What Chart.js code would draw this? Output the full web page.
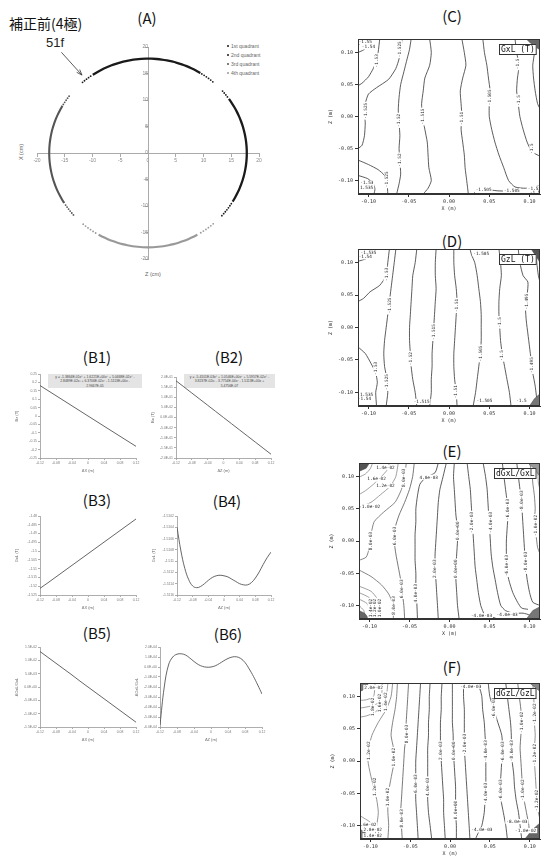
<!DOCTYPE html>
<html><head><meta charset="utf-8">
<script src="https://cdn.jsdelivr.net/npm/chart.js@4.4.1/dist/chart.umd.min.js"></script>
<style>
html,body{margin:0;padding:0;background:#fff;width:542px;height:861px;overflow:hidden;}
body{position:relative;font-family:'Liberation Sans',Arial,sans-serif;}
canvas{position:absolute;}
.ttl{position:absolute;font-family:'Noto Sans CJK JP',sans-serif;font-size:15px;color:#111;transform:translate(-50%,-50%);white-space:nowrap;line-height:1;}
.eq{position:absolute;background:#e4e4e4;font-size:3.4px;line-height:4.3px;color:#444;text-align:center;padding-top:1px;box-sizing:border-box;white-space:nowrap;}
.leg{position:absolute;font-size:5px;color:#666;line-height:1;white-space:nowrap;}
.dot{position:absolute;width:2px;height:2px;border-radius:50%;}
.axt{position:absolute;font-size:5.5px;color:#666;white-space:nowrap;line-height:1;transform:translate(-50%,-50%);}
</style></head><body>
<div class="ttl" style="left:9px;top:23px;transform:translate(0,-50%);font-size:14px;">補正前(4極)</div>
<div class="ttl" style="left:147px;top:17px;">(A)</div>
<div class="ttl" style="left:97px;top:356px;">(B1)</div>
<div class="ttl" style="left:229px;top:356px;">(B2)</div>
<div class="ttl" style="left:97px;top:499px;">(B3)</div>
<div class="ttl" style="left:227px;top:500px;">(B4)</div>
<div class="ttl" style="left:97px;top:632px;">(B5)</div>
<div class="ttl" style="left:228px;top:633px;">(B6)</div>
<div class="ttl" style="left:452px;top:15px;">(C)</div>
<div class="ttl" style="left:452px;top:240px;">(D)</div>
<div class="ttl" style="left:452px;top:450px;">(E)</div>
<div class="ttl" style="left:452px;top:666px;">(F)</div>
<div style="position:absolute;left:46px;top:36px;font-size:13px;color:#222;line-height:1;">51f</div>
<div class="axt" style="left:22px;top:152px;transform:translate(-50%,-50%) rotate(-90deg);">X (cm)</div>
<div class="axt" style="left:153px;top:275px;">Z (cm)</div>
<div class="dot" style="left:227px;top:45px;background:#1a1a1a"></div><div class="leg" style="left:231px;top:43.5px">1st quadrant</div>
<div class="dot" style="left:227px;top:54px;background:#1a1a1a"></div><div class="leg" style="left:231px;top:52.5px">2nd quadrant</div>
<div class="dot" style="left:227px;top:63px;background:#555"></div><div class="leg" style="left:231px;top:61.5px">3rd quadrant</div>
<div class="dot" style="left:227px;top:72px;background:#999"></div><div class="leg" style="left:231px;top:70.5px">4th quadrant</div>
<div class="eq" style="left:48px;top:374px;width:94px;height:14px;">y = -1.3864E-01x⁶ + 1.6221E+00x⁵ + 5.0468E-02x⁴ -<br>2.8489E-02x³ + 6.3706E-02x² - 1.5113E+00x -<br>2.9667E-05</div>
<div class="eq" style="left:184px;top:374px;width:91px;height:14px;">y = -5.4101E-03x⁶ + 1.0546E+00x⁵ + 5.5957E-02x⁴ -<br>3.8237E-02x³ - 3.7754E-04x² - 1.5113E+00x +<br>5.4756E-07</div>
<script>
// ---------------- DATA ----------------
// Panel A : measured points on circle (angle in degrees, radius in cm)
const A_radius = 17.8;
const q1Dense = [58,61,64,67,70,73,76,79,82,85,88,91,94,97,100,103,106,109,112,115,118,121,124];
const q1Sparse = [49,50.6,52.2,53.8,55.4,57,125.5,127,128.5,130,131.5];
const q2Dense = [35,32,29,26,23,20,17,14,11,8,5,2,-1,-4,-7,-10,-13,-16,-19,-22,-25,-28,-31];
const q2Sparse = [41,39.5,38,36.5,-32.5,-34,-35.5,-37,-38.5,-40,-41.6];
const q3Dense = [150,153,156,159,162,165,168,171,174,177,180,183,186,189,192,195,198,201,204,207,210,212];
const q3Sparse = [143,144.5,146,147.5,149,213.5,215,216.5,218,219.5,221];
const q4Dense = [-60,-63,-66,-69,-72,-75,-78,-81,-84,-87,-90,-93,-96,-99,-102,-105,-108,-111,-114,-117,-120];
const q4Sparse = [-48.7,-50.5,-52.3,-54.1,-55.9,-57.7,-122,-123.8,-125.6,-127.4,-129.2,-131];

// Panel B
const B_dx = [-0.12,-0.10,-0.08,-0.06,-0.04,-0.02,0,0.02,0.04,0.06,0.08,0.10,0.12];
const B1_field = [0.1814,0.1511,0.1209,0.0907,0.0605,0.0302,0.0000,-0.0302,-0.0604,-0.0905,-0.1206,-0.1506,-0.1806];
const B2_field = [0.1813,0.1511,0.1209,0.0907,0.0605,0.0302,0.0000,-0.0302,-0.0605,-0.0907,-0.1209,-0.1511,-0.1814];
const B3_GxL = [-1.5212,-1.5180,-1.5147,-1.5114,-1.5081,-1.5048,-1.5015,-1.4982,-1.4949,-1.4916,-1.4883,-1.4850,-1.4817];
const B5_dG = [0.0133,0.0111,0.0089,0.0067,0.0045,0.0022,0.0000,-0.0022,-0.0044,-0.0066,-0.0088,-0.0110,-0.0132];
const B_dz = [-0.12,-0.11,-0.10,-0.09,-0.08,-0.07,-0.06,-0.05,-0.04,-0.03,-0.02,-0.01,0,0.01,0.02,0.03,0.04,0.05,0.06,0.07,0.08,0.09,0.10,0.11,0.12];
const B4_GzL = [-1.51040,-1.51082,-1.51113,-1.51133,-1.51144,-1.51147,-1.51145,-1.51140,-1.51134,-1.51129,-1.51126,-1.51125,-1.51126,-1.51128,-1.51132,-1.51136,-1.51140,-1.51142,-1.51142,-1.51138,-1.51130,-1.51119,-1.51106,-1.51094,-1.51084];
const B6_dG = [-5.8e-4,-2.0e-4,0.2e-4,1.0e-4,1.28e-4,1.32e-4,1.20e-4,0.90e-4,0.55e-4,0.25e-4,0.06e-4,-0.02e-4,0,0.12e-4,0.35e-4,0.62e-4,0.85e-4,1.0e-4,1.02e-4,0.85e-4,0.45e-4,-0.2e-4,-0.95e-4,-1.8e-4,-2.7e-4];

// Panel C : GxL contours [x, z] (m)
const C_m155 = [[-0.113,0.112],[-0.108,0.116],[-0.106,0.121]];
const C_m154 = [[-0.113,0.100],[-0.106,0.104],[-0.100,0.112],[-0.098,0.121]];
const C_m153a = [[-0.086,0.121],[-0.088,0.10],[-0.090,0.087],[-0.094,0.075],[-0.100,0.062],[-0.108,0.052],[-0.113,0.048]];
const C_m1525a = [[-0.058,0.121],[-0.060,0.105],[-0.062,0.09],[-0.066,0.075],[-0.075,0.058],[-0.090,0.045],[-0.100,0.035],[-0.104,0.02],[-0.105,0.005],[-0.104,-0.01],[-0.105,-0.03],[-0.108,-0.045],[-0.113,-0.05]];
const C_m1525b = [[-0.113,-0.068],[-0.100,-0.075],[-0.088,-0.083],[-0.080,-0.092],[-0.077,-0.103],[-0.076,-0.121]];
const C_m153b = [[-0.113,-0.092],[-0.101,-0.097],[-0.094,-0.105],[-0.092,-0.113],[-0.093,-0.121]];
const C_m152 = [[-0.047,0.121],[-0.049,0.105],[-0.052,0.09],[-0.056,0.07],[-0.060,0.05],[-0.062,0.03],[-0.063,0.01],[-0.062,-0.01],[-0.061,-0.03],[-0.062,-0.05],[-0.061,-0.07],[-0.060,-0.09],[-0.062,-0.105],[-0.065,-0.121]];
const C_m1515 = [[-0.024,0.121],[-0.022,0.10],[-0.024,0.08],[-0.030,0.06],[-0.032,0.04],[-0.034,0.02],[-0.033,0.00],[-0.030,-0.02],[-0.027,-0.04],[-0.026,-0.06],[-0.025,-0.08],[-0.022,-0.10],[-0.026,-0.112],[-0.032,-0.121]];
const C_m151 = [[0.016,0.121],[0.019,0.10],[0.021,0.08],[0.017,0.06],[0.014,0.04],[0.015,0.02],[0.016,0.00],[0.015,-0.02],[0.017,-0.04],[0.019,-0.06],[0.020,-0.08],[0.022,-0.10],[0.024,-0.121]];
const C_m1505 = [[0.042,0.121],[0.044,0.10],[0.047,0.08],[0.049,0.06],[0.051,0.04],[0.050,0.02],[0.050,0.00],[0.053,-0.02],[0.057,-0.04],[0.062,-0.06],[0.068,-0.08],[0.074,-0.10],[0.082,-0.110],[0.095,-0.112],[0.113,-0.108]];
const C_m1505b = [[0.030,-0.121],[0.034,-0.116],[0.045,-0.114],[0.060,-0.116],[0.075,-0.117],[0.085,-0.121]];
const C_m150 = [[0.082,0.121],[0.084,0.10],[0.087,0.08],[0.085,0.06],[0.084,0.04],[0.086,0.02],[0.088,0.00],[0.092,-0.02],[0.097,-0.04],[0.103,-0.055],[0.113,-0.062]];
const C_m1495 = [[0.104,0.121],[0.106,0.10],[0.104,0.08],[0.105,0.06],[0.107,0.04],[0.110,0.02],[0.113,0.012]];
const C_patch = [[0.096,0.121],[0.113,0.121],[0.113,0.104],[0.106,0.110],[0.100,0.116]];
const C_labels = [['-1.525',-0.061,0.105],['-1.53',-0.090,0.087],['-1.525',-0.104,0.009],['-1.52',-0.062,-0.006],['-1.52',-0.061,-0.068],['-1.525',-0.077,-0.098],['-1.515',-0.033,0.000],['-1.51',0.016,-0.003],['-1.505',0.051,0.030],['-1.5',0.085,0.082],['-1.5',0.086,0.025],['-1.5',0.103,-0.050],['-1.505',0.043,-0.115,1],['-1.505',0.078,-0.116,1],['-1.55',-0.104,0.117,1],['-1.54',-0.100,0.109,1],['-1.53',-0.102,-0.104,1],['-1.535',-0.104,-0.111,1],['-1.53',0.106,-0.112,1],['-1.5',0.107,-0.119,1]];

// Panel D : GzL contours
const D_m1535 = [[-0.094,0.121],[-0.097,0.113],[-0.103,0.106],[-0.113,0.102]];
const D_m153a = [[-0.074,0.121],[-0.076,0.10],[-0.078,0.08],[-0.086,0.065],[-0.098,0.055],[-0.106,0.045],[-0.113,0.040]];
const D_m1525 = [[-0.066,0.121],[-0.068,0.10],[-0.070,0.08],[-0.072,0.06],[-0.074,0.04],[-0.076,0.02],[-0.078,0.00],[-0.080,-0.02],[-0.081,-0.04],[-0.080,-0.06],[-0.077,-0.08],[-0.076,-0.10],[-0.078,-0.121]];
const D_m153b = [[-0.113,-0.030],[-0.104,-0.040],[-0.097,-0.055],[-0.091,-0.07],[-0.089,-0.085],[-0.091,-0.10],[-0.090,-0.121]];
const D_m152 = [[-0.040,0.121],[-0.042,0.10],[-0.045,0.08],[-0.046,0.06],[-0.047,0.04],[-0.048,0.02],[-0.049,0.00],[-0.049,-0.02],[-0.048,-0.04],[-0.047,-0.06],[-0.045,-0.08],[-0.042,-0.10],[-0.040,-0.121]];
const D_m1515 = [[-0.016,0.121],[-0.017,0.10],[-0.017,0.08],[-0.016,0.06],[-0.017,0.04],[-0.018,0.02],[-0.019,0.00],[-0.020,-0.02],[-0.021,-0.04],[-0.021,-0.06],[-0.022,-0.08],[-0.022,-0.10],[-0.024,-0.121]];
const D_m151 = [[0.006,0.121],[0.006,0.10],[0.007,0.08],[0.009,0.06],[0.010,0.04],[0.009,0.02],[0.008,0.00],[0.007,-0.02],[0.006,-0.04],[0.006,-0.06],[0.007,-0.08],[0.009,-0.10],[0.010,-0.121]];
const D_m1505 = [[0.026,0.121],[0.028,0.112],[0.032,0.10],[0.035,0.08],[0.037,0.06],[0.039,0.04],[0.040,0.02],[0.040,0.00],[0.040,-0.02],[0.039,-0.04],[0.037,-0.06],[0.035,-0.08],[0.033,-0.10],[0.030,-0.121]];
const D_m150 = [[0.062,0.121],[0.064,0.10],[0.065,0.08],[0.063,0.06],[0.062,0.04],[0.062,0.02],[0.063,0.00],[0.064,-0.02],[0.066,-0.04],[0.069,-0.06],[0.072,-0.08],[0.075,-0.10],[0.077,-0.121]];
const D_m1495 = [[0.086,0.121],[0.088,0.10],[0.092,0.08],[0.098,0.07],[0.097,0.05],[0.095,0.03],[0.096,0.01],[0.098,-0.01],[0.100,-0.03],[0.102,-0.05],[0.104,-0.07],[0.107,-0.09],[0.110,-0.121]];
const D_m149 = [[0.108,0.121],[0.109,0.10],[0.111,0.08],[0.113,0.07]];
const D_patchTR = [[0.102,0.121],[0.113,0.121],[0.113,0.100],[0.108,0.110]];
const D_patchBR = [[0.100,-0.121],[0.113,-0.121],[0.113,-0.102],[0.106,-0.110]];
const D_labels = [['-1.535',-0.100,0.116,1],['-1.54',-0.104,0.109,1],['-1.53',-0.078,0.082],['-1.525',-0.074,0.034],['-1.52',-0.047,-0.048],['-1.525',-0.077,-0.084],['-1.53',-0.091,-0.063],['-1.515',-0.019,-0.007],['-1.51',0.010,0.034],['-1.51',0.008,-0.099],['-1.515',-0.034,-0.114,1],['-1.505',0.039,-0.040],['-1.505',0.044,-0.113,1],['-1.505',0.040,0.114,1],['-1.5',0.063,0.008],['-1.5',0.066,-0.043],['-1.495',0.096,0.040],['-1.495',0.103,-0.058],['-1.5',0.090,-0.112,1],['-1.535',-0.104,-0.103,1],['-1.54',-0.105,-0.110,1]];

// Panel E : dGxL/GxL contours
const E_p16a = [[-0.107,0.121],[-0.109,0.116],[-0.113,0.113]];
const E_p14a = [[-0.096,0.121],[-0.099,0.112],[-0.105,0.104],[-0.113,0.099]];
const E_p12a = [[-0.075,0.121],[-0.078,0.11],[-0.085,0.10],[-0.095,0.088],[-0.105,0.078],[-0.113,0.072]];
const E_p10a = [[-0.064,0.121],[-0.067,0.10],[-0.074,0.085],[-0.086,0.072],[-0.098,0.060],[-0.113,0.052]];
const E_p08a = [[-0.054,0.121],[-0.056,0.10],[-0.060,0.08],[-0.068,0.06],[-0.082,0.045],[-0.094,0.03],[-0.098,0.01],[-0.100,-0.01],[-0.104,-0.025],[-0.113,-0.030]];
const E_p08b = [[-0.113,-0.045],[-0.098,-0.055],[-0.085,-0.068],[-0.076,-0.082],[-0.071,-0.097],[-0.070,-0.121]];
const E_p10b = [[-0.113,-0.070],[-0.098,-0.078],[-0.090,-0.090],[-0.087,-0.105],[-0.086,-0.121]];
const E_p12b = [[-0.113,-0.080],[-0.100,-0.088],[-0.094,-0.100],[-0.093,-0.121]];
const E_p14b = [[-0.113,-0.090],[-0.103,-0.097],[-0.099,-0.108],[-0.099,-0.121]];
const E_p18b = [[-0.113,-0.100],[-0.107,-0.108],[-0.105,-0.121]];
const E_p06 = [[-0.044,0.121],[-0.046,0.10],[-0.050,0.08],[-0.056,0.06],[-0.063,0.04],[-0.068,0.02],[-0.069,0.00],[-0.067,-0.02],[-0.064,-0.04],[-0.061,-0.06],[-0.059,-0.08],[-0.057,-0.10],[-0.056,-0.121]];
const E_p04 = [[-0.014,0.121],[-0.018,0.106],[-0.030,0.098],[-0.037,0.088],[-0.040,0.07],[-0.042,0.05],[-0.042,0.03],[-0.043,0.01],[-0.043,-0.01],[-0.043,-0.03],[-0.042,-0.05],[-0.042,-0.07],[-0.041,-0.09],[-0.040,-0.121]];
const E_p02 = [[-0.004,0.121],[-0.008,0.10],[-0.012,0.08],[-0.014,0.06],[-0.015,0.04],[-0.016,0.02],[-0.017,0.00],[-0.018,-0.02],[-0.018,-0.04],[-0.017,-0.06],[-0.016,-0.08],[-0.015,-0.10],[-0.014,-0.121]];
const E_z00 = [[0.006,0.121],[0.005,0.10],[0.006,0.08],[0.007,0.06],[0.008,0.04],[0.010,0.02],[0.010,0.00],[0.009,-0.02],[0.008,-0.04],[0.008,-0.06],[0.009,-0.08],[0.010,-0.10],[0.012,-0.121]];
const E_m02 = [[0.022,0.121],[0.024,0.10],[0.026,0.08],[0.027,0.06],[0.028,0.04],[0.029,0.02],[0.030,0.00],[0.031,-0.02],[0.032,-0.04],[0.034,-0.06],[0.036,-0.08],[0.039,-0.10],[0.042,-0.11],[0.046,-0.121]];
const E_m04 = [[0.042,0.121],[0.045,0.10],[0.047,0.08],[0.048,0.06],[0.049,0.04],[0.050,0.02],[0.051,0.00],[0.052,-0.02],[0.054,-0.04],[0.057,-0.06],[0.060,-0.08],[0.064,-0.10],[0.070,-0.108],[0.080,-0.112],[0.092,-0.112],[0.100,-0.115],[0.104,-0.121]];
const E_m04b = [[0.028,-0.121],[0.034,-0.117],[0.048,-0.116],[0.060,-0.121]];
const E_m06 = [[0.066,0.121],[0.068,0.10],[0.070,0.08],[0.072,0.06],[0.073,0.04],[0.072,0.02],[0.071,0.00],[0.071,-0.02],[0.071,-0.04],[0.074,-0.06],[0.079,-0.08],[0.085,-0.095],[0.090,-0.104],[0.098,-0.106]];
const E_m08 = [[0.084,0.121],[0.086,0.10],[0.088,0.08],[0.090,0.06],[0.091,0.04],[0.092,0.02],[0.093,0.00],[0.094,-0.02],[0.095,-0.04],[0.097,-0.06],[0.100,-0.08],[0.104,-0.095],[0.113,-0.100]];
const E_m10 = [[0.100,0.121],[0.103,0.105],[0.104,0.09],[0.106,0.07],[0.107,0.05],[0.106,0.03],[0.108,0.01],[0.110,-0.01],[0.113,-0.02]];
const E_m12 = [[0.108,0.121],[0.110,0.11],[0.111,0.09],[0.113,0.08]];
const E_patchTL = [[-0.113,0.121],[-0.100,0.121],[-0.104,0.113],[-0.113,0.108]];
const E_patchBL = [[-0.113,-0.121],[-0.100,-0.121],[-0.106,-0.112],[-0.113,-0.108]];
const E_patchTR = [[0.098,0.121],[0.113,0.121],[0.113,0.100],[0.106,0.112]];
const E_patchBR = [[0.096,-0.121],[0.113,-0.121],[0.113,-0.102],[0.104,-0.108]];
const E_labels = [['1.4e-02',-0.080,0.114,1],['1.6e-02',-0.091,0.096,1],['1.2e-02',-0.080,0.086,1],['1.0e-02',-0.098,0.054,1],['8.0e-03',-0.057,0.098],['4.0e-03',-0.026,0.099,1],['8.0e-03',-0.098,0.0],['6.0e-03',-0.069,0.008],['6.0e-03',-0.060,-0.074],['4.0e-03',-0.042,-0.081],['2.0e-03',-0.018,-0.043],['0.0e+00',0.010,0.016],['0.0e+00',0.008,-0.043],['-2.0e-03',0.028,0.029],['-4.0e-03',0.051,0.029],['-6.0e-03',0.073,0.049],['-6.0e-03',0.071,-0.038],['-8.0e-03',0.090,0.062],['-8.0e-03',0.095,-0.033],['-1.0e-02',0.107,0.024],['-4.0e-03',0.040,-0.116,1],['-4.0e-03',0.072,-0.114,1],['8.0e-03',-0.070,-0.100],['1.4e-02',-0.099,-0.104],['1.2e-02',-0.093,-0.104],['1.0e-02',-0.087,-0.104]];

// Panel F : dGzL/GzL contours
const F_p20 = [[-0.113,0.108],[-0.106,0.113],[-0.103,0.121]];
const F_p18 = [[-0.094,0.121],[-0.096,0.10],[-0.105,0.095],[-0.113,0.094]];
const F_p16 = [[-0.085,0.121],[-0.086,0.10],[-0.090,0.09],[-0.100,0.085],[-0.113,0.082]];
const F_p14 = [[-0.078,0.121],[-0.080,0.10],[-0.086,0.085],[-0.095,0.075],[-0.105,0.07],[-0.113,0.068]];
const F_p14b = [[-0.113,-0.085],[-0.100,-0.095],[-0.090,-0.11],[-0.088,-0.121]];
const F_p12 = [[-0.072,0.121],[-0.074,0.10],[-0.080,0.08],[-0.090,0.06],[-0.098,0.04],[-0.102,0.02],[-0.103,0.00],[-0.100,-0.02],[-0.096,-0.04],[-0.092,-0.06],[-0.090,-0.08],[-0.092,-0.10],[-0.095,-0.121]];
const F_p10 = [[-0.066,0.121],[-0.067,0.10],[-0.069,0.08],[-0.072,0.06],[-0.074,0.04],[-0.071,0.02],[-0.070,0.00],[-0.073,-0.02],[-0.076,-0.04],[-0.078,-0.06],[-0.078,-0.08],[-0.077,-0.10],[-0.078,-0.121]];
const F_p08 = [[-0.052,0.121],[-0.053,0.10],[-0.054,0.08],[-0.055,0.06],[-0.055,0.04],[-0.057,0.02],[-0.058,0.00],[-0.059,-0.02],[-0.060,-0.04],[-0.061,-0.06],[-0.062,-0.08],[-0.061,-0.10],[-0.060,-0.121]];
const F_p06 = [[-0.037,0.121],[-0.038,0.10],[-0.039,0.08],[-0.040,0.06],[-0.041,0.04],[-0.042,0.02],[-0.043,0.00],[-0.043,-0.02],[-0.043,-0.04],[-0.043,-0.06],[-0.042,-0.08],[-0.041,-0.10],[-0.040,-0.121]];
const F_p04 = [[-0.025,0.121],[-0.026,0.10],[-0.026,0.08],[-0.027,0.06],[-0.027,0.04],[-0.028,0.02],[-0.028,0.00],[-0.028,-0.02],[-0.028,-0.04],[-0.028,-0.06],[-0.027,-0.08],[-0.025,-0.10],[-0.023,-0.121]];
const F_p02 = [[-0.010,0.121],[-0.011,0.10],[-0.011,0.08],[-0.012,0.06],[-0.012,0.04],[-0.012,0.02],[-0.011,0.00],[-0.010,-0.02],[-0.009,-0.04],[-0.008,-0.06],[-0.008,-0.08],[-0.007,-0.10],[-0.006,-0.121]];
const F_z00 = [[0.003,0.121],[0.003,0.10],[0.003,0.08],[0.003,0.06],[0.004,0.04],[0.004,0.02],[0.005,0.00],[0.006,-0.02],[0.007,-0.04],[0.007,-0.06],[0.007,-0.08],[0.008,-0.10],[0.008,-0.121]];
const F_m02 = [[0.017,0.121],[0.017,0.10],[0.018,0.08],[0.018,0.06],[0.018,0.04],[0.018,0.02],[0.019,0.00],[0.020,-0.02],[0.021,-0.04],[0.022,-0.06],[0.023,-0.08],[0.024,-0.10],[0.025,-0.121]];
const F_m04 = [[0.034,0.121],[0.038,0.11],[0.040,0.10],[0.041,0.08],[0.043,0.06],[0.044,0.04],[0.045,0.02],[0.045,0.00],[0.045,-0.02],[0.045,-0.04],[0.044,-0.06],[0.043,-0.08],[0.040,-0.10],[0.036,-0.11],[0.032,-0.121]];
const F_m06 = [[0.048,0.121],[0.050,0.10],[0.055,0.08],[0.060,0.06],[0.065,0.04],[0.066,0.02],[0.065,0.00],[0.064,-0.02],[0.063,-0.04],[0.064,-0.06],[0.067,-0.08],[0.070,-0.10],[0.072,-0.121]];
const F_m08 = [[0.070,0.121],[0.072,0.10],[0.074,0.08],[0.076,0.06],[0.077,0.04],[0.077,0.02],[0.078,0.00],[0.080,-0.02],[0.081,-0.04],[0.083,-0.06],[0.086,-0.08],[0.088,-0.10],[0.090,-0.121]];
const F_m10 = [[0.085,0.121],[0.087,0.10],[0.089,0.08],[0.090,0.06],[0.089,0.04],[0.088,0.02],[0.089,0.00],[0.090,-0.02],[0.091,-0.04],[0.093,-0.06],[0.096,-0.08],[0.099,-0.10],[0.100,-0.121]];
const F_m12 = [[0.104,0.121],[0.105,0.10],[0.106,0.08],[0.106,0.06],[0.107,0.04],[0.106,0.02],[0.106,0.00],[0.107,-0.02],[0.108,-0.04],[0.109,-0.06],[0.111,-0.08],[0.113,-0.09]];
const F_patchTL = [[-0.113,0.121],[-0.102,0.121],[-0.107,0.112],[-0.113,0.108]];
const F_patchBL = [[-0.113,-0.121],[-0.100,-0.121],[-0.107,-0.110],[-0.113,-0.106]];
const F_patchTR = [[0.100,0.121],[0.113,0.121],[0.113,0.108]];
const F_patchBR = [[0.094,-0.121],[0.113,-0.121],[0.113,-0.096],[0.104,-0.106]];
const F_labels = [['2.0e-02',-0.096,0.114,1],['1.8e-02',-0.097,0.084],['1.6e-02',-0.088,0.090],['1.4e-02',-0.081,0.092],['1.2e-02',-0.102,0.016],['1.2e-02',-0.094,-0.040],['1.0e-02',-0.071,0.006],['1.0e-02',-0.078,-0.056],['8.0e-03',-0.055,0.042],['8.0e-03',-0.061,-0.089],['6.0e-03',-0.043,-0.035],['4.0e-03',-0.028,-0.040],['2.0e-03',-0.012,0.016],['0.0e+00',0.004,0.016],['0.0e+00',0.007,-0.076],['-2.0e-03',0.018,0.026],['-4.0e-03',0.045,0.016],['-4.0e-03',0.045,-0.050],['-4.0e-03',0.026,0.116,1],['-4.0e-03',0.040,-0.107,1],['-6.0e-03',0.055,0.082],['-6.0e-03',0.066,0.014],['-6.0e-03',0.063,-0.045],['-8.0e-03',0.077,0.016],['-8.0e-03',0.084,-0.094,1],['-1.0e-02',0.090,0.060],['-1.0e-02',0.091,-0.045],['-1.0e-02',0.095,-0.108,1],['-1.2e-02',0.106,0.073],['-1.2e-02',0.106,0.010],['-1.2e-02',0.109,-0.061],['1.6e-02',-0.104,-0.099,1],['2.0e-02',-0.097,-0.106,1],['1.4e-02',-0.097,-0.116,1]];

// ---------------- HELPERS ----------------
function makeCanvas(l,t,w,h){const c=document.createElement('canvas');c.width=w;c.height=h;c.style.left=l+'px';c.style.top=t+'px';c.style.width=w+'px';c.style.height=h+'px';document.body.appendChild(c);return c;}
function pts(arr){return arr.map(p=>({x:p[0],y:p[1]}));}
function fmtE(v){if(Math.abs(v)<1e-12)return '0.0E+00';const s=v.toExponential(1);const [m,e]=s.split('e');return m+'E'+(e[0]==='-'?'-':'+')+e.replace(/[+-]/,'').padStart(2,'0');}
function trimNum(d){return v=>{if(Math.abs(v)<1e-12)return '0';return String(parseFloat(Number(v).toFixed(d)));};}
const baseOpts={responsive:false,animation:false,devicePixelRatio:1,plugins:{legend:{display:false},tooltip:{enabled:false}}};

// ---------------- PANEL A ----------------
function polar(angles){return angles.map(a=>({x:A_radius*Math.cos(a*Math.PI/180),y:A_radius*Math.sin(a*Math.PI/180)}));}
const arrowPlugin={id:'arrowA',afterDraw(chart){const xs=chart.scales.x,ys=chart.scales.y,ctx=chart.ctx;
  const x0=xs.getPixelForValue(-15.6),y0=ys.getPixelForValue(19.0),x1=xs.getPixelForValue(-11.9),y1=ys.getPixelForValue(14.7);
  ctx.save();ctx.strokeStyle='#333';ctx.lineWidth=0.8;ctx.beginPath();ctx.moveTo(x0,y0);ctx.lineTo(x1,y1);ctx.stroke();
  const ang=Math.atan2(y1-y0,x1-x0),L=6;ctx.beginPath();ctx.moveTo(x1-L*Math.cos(ang-0.35),y1-L*Math.sin(ang-0.35));ctx.lineTo(x1,y1);ctx.lineTo(x1-L*Math.cos(ang+0.35),y1-L*Math.sin(ang+0.35));ctx.stroke();ctx.restore();}};
(function(){
  const cv=makeCanvas(0,30,300,260);
  const dense=(a,c,w)=>({data:polar(a),showLine:true,borderColor:c,borderWidth:w,pointRadius:0,tension:0.3});
  const sparse=(a,c)=>({data:polar(a),showLine:false,pointRadius:0.9,pointBorderWidth:0,pointBackgroundColor:c});
  const axis=()=>({type:'linear',min:-20,max:20,ticks:{stepSize:5,includeBounds:false,autoSkip:false,maxRotation:0,font:{family:'Liberation Sans',size:5},color:'#888',padding:2},grid:{drawOnChartArea:false,tickLength:3,color:'#aaa'},border:{color:'#aaa'}});
  const ax=axis();ax.position={y:0};const ay=axis();ay.position={x:0};
  new Chart(cv,{type:'scatter',data:{datasets:[
    dense(q1Dense,'#1a1a1a',2.3),sparse(q1Sparse,'#1a1a1a'),
    dense(q2Dense,'#1a1a1a',2.3),sparse(q2Sparse,'#1a1a1a'),
    dense(q3Dense,'#555',2.1),sparse(q3Sparse,'#555'),
    dense(q4Dense,'#999',2.1),sparse(q4Sparse,'#999')]},
    options:Object.assign({},baseOpts,{layout:{padding:{left:37,right:41,top:17,bottom:31}},scales:{x:ax,y:ay}}),plugins:[arrowPlugin]});
})();

// ---------------- PANEL B ----------------
function bChart(o){
  const yW=26,xH=15,padT=6,padR=12;
  const cv=makeCanvas(o.l-yW,o.t-padT,yW+o.w+padR,padT+o.h+xH);
  const axis=(title,fmt,min,max,step,isX)=>({type:'linear',min,max,
    ticks:{stepSize:step,includeBounds:false,autoSkip:false,maxRotation:0,font:{family:'Liberation Sans',size:3.4},color:'#777',padding:1,callback:fmt},
    grid:{drawOnChartArea:false,tickLength:2,color:'#999',lineWidth:0.8},border:{color:'#999',width:0.8},
    title:{display:true,text:title,font:{family:'Liberation Sans',size:4},color:'#666',padding:0},
    afterFit:s=>{if(isX)s.height=xH;else s.width=yW;}});
  new Chart(cv,{type:'scatter',data:{datasets:[{data:o.xs.map((x,i)=>({x,y:o.ys[i]})),showLine:true,borderColor:'#555',borderWidth:0.9,pointRadius:0,tension:o.tension||0}]},
    options:Object.assign({},baseOpts,{layout:{padding:{left:0,top:padT,right:padR,bottom:0}},
      scales:{x:axis(o.xTitle,trimNum(2),-0.12,0.12,0.04,true),y:axis(o.yTitle,o.yFmt,o.yMin,o.yMax,o.yStep,false)}})});
}
bChart({l:40,t:374,w:96,h:84,xs:B_dx,ys:B1_field,yMin:-0.25,yMax:0.25,yStep:0.05,yFmt:trimNum(2),xTitle:'ΔX (m)',yTitle:'Bz (T)'});
bChart({l:176,t:377,w:95,h:81,xs:B_dx,ys:B2_field,yMin:-0.2,yMax:0.2,yStep:0.05,yFmt:fmtE,xTitle:'ΔZ (m)',yTitle:'Bx (T)'});
bChart({l:40,t:516,w:96,h:79,xs:B_dx,ys:B3_GxL,yMin:-1.525,yMax:-1.48,yStep:0.005,yFmt:trimNum(3),xTitle:'ΔX (m)',yTitle:'GxL (T)'});
bChart({l:177,t:516,w:94,h:79,xs:B_dz,ys:B4_GzL,yMin:-1.5116,yMax:-1.5102,yStep:0.0002,yFmt:trimNum(4),xTitle:'ΔZ (m)',yTitle:'GzL (T)',tension:0.4});
bChart({l:40,t:647,w:96,h:80,xs:B_dx,ys:B5_dG,yMin:-0.015,yMax:0.015,yStep:0.005,yFmt:fmtE,xTitle:'ΔX (m)',yTitle:'ΔGxL/GxL'});
bChart({l:160,t:647,w:102,h:80,xs:B_dz,ys:B6_dG,yMin:-6e-4,yMax:2e-4,yStep:1e-4,yFmt:fmtE,xTitle:'ΔZ (m)',yTitle:'ΔGzL/GzL',tension:0.4});

// ---------------- PANELS C-F ----------------
function labelPlugin(id,labels,boxText){return {id,afterDatasetsDraw(chart){
  const ctx=chart.ctx,xs=chart.scales.x,ys=chart.scales.y,a=chart.chartArea;
  ctx.save();ctx.beginPath();ctx.rect(a.left,a.top,a.right-a.left,a.bottom-a.top);ctx.clip();
  ctx.font='4.4px "DejaVu Sans Mono"';ctx.textAlign='center';ctx.textBaseline='middle';
  for(const [t,x,z,h] of labels){const px=xs.getPixelForValue(x),py=ys.getPixelForValue(z);ctx.save();ctx.translate(px,py);if(!h)ctx.rotate(-Math.PI/2);
    const w=ctx.measureText(t).width;ctx.fillStyle='#fff';ctx.fillRect(-w/2-1,-2.6,w+2,5.2);ctx.fillStyle='#222';ctx.fillText(t,0,0.2);ctx.restore();}
  ctx.restore();
  ctx.save();ctx.strokeStyle='#333';ctx.lineWidth=1;ctx.strokeRect(Math.round(a.left)+0.5,Math.round(a.top)+0.5,Math.round(a.right-a.left)-1,Math.round(a.bottom-a.top)-1);
  ctx.font='8px "DejaVu Sans Mono"';const bw=ctx.measureText(boxText).width+4;const bx=Math.round(a.right-3-bw),by=Math.round(a.top+5);
  ctx.fillStyle='#fff';ctx.fillRect(bx,by,bw,11);ctx.strokeRect(bx+0.5,by+0.5,bw-1,10);ctx.fillStyle='#111';ctx.textAlign='left';ctx.textBaseline='middle';ctx.fillText(boxText,bx+2,by+6);
  ctx.restore();}};}
function cChart(o){
  const yW=30,xH=18,padT=4,padR=2;
  const cv=makeCanvas(o.l-yW,o.t-padT,yW+o.w+padR,padT+o.h+xH);
  const axis=(title,isX,lim)=>({type:'linear',min:-lim,max:lim,
    ticks:{stepSize:0.05,includeBounds:false,autoSkip:false,maxRotation:0,font:{family:'DejaVu Sans Mono',size:5},color:'#333',padding:2,callback:v=>Number(v).toFixed(2)},
    grid:{drawOnChartArea:false,tickLength:3,color:'#333'},border:{color:'#333'},
    title:{display:true,text:title,font:{family:'DejaVu Sans Mono',size:5},color:'#333',padding:0},
    afterFit:s=>{if(isX)s.height=xH;else s.width=yW;}});
  const ds=[];
  for(const p of o.patches){const d=pts(p[0]);d.push(d[0]);ds.push({data:d,showLine:true,fill:'shape',backgroundColor:p[1],borderColor:'#444',borderWidth:0.5,pointRadius:0});}
  for(const l of o.lines){ds.push({data:pts(l[0]),showLine:true,borderColor:l[1]||'#333',borderWidth:0.8,pointRadius:0,tension:0.2});}
  new Chart(cv,{type:'scatter',data:{datasets:ds},options:Object.assign({},baseOpts,{layout:{padding:{left:0,top:padT,right:padR,bottom:0}},
    scales:{x:axis('X (m)',true,0.113),y:axis('Z (m)',false,0.121)}}),plugins:[labelPlugin(o.id,o.labels,o.box)]});
}
cChart({id:'lc',l:358,t:38,w:182,h:156,box:'GxL (T)',labels:C_labels,patches:[[C_patch,'#666']],
  lines:[[C_m155],[C_m154],[C_m153a],[C_m1525a],[C_m1525b],[C_m153b],[C_m152],[C_m1515],[C_m151],[C_m1505],[C_m1505b],[C_m150],[C_m1495]]});
cChart({id:'ld',l:358,t:248,w:182,h:158,box:'GzL (T)',labels:D_labels,patches:[[D_patchTR,'#555'],[D_patchBR,'#777']],
  lines:[[D_m1535],[D_m153a],[D_m1525],[D_m153b],[D_m152],[D_m1515],[D_m151],[D_m1505],[D_m150],[D_m1495],[D_m149]]});
cChart({id:'le',l:359,t:462,w:181,h:157,box:'dGxL/GxL',labels:E_labels,patches:[[E_patchTL,'#555'],[E_patchBL,'#666'],[E_patchTR,'#999'],[E_patchBR,'#777']],
  lines:[[E_p16a,'#888'],[E_p14a,'#888'],[E_p12a,'#888'],[E_p10a,'#888'],[E_p08a,'#666'],[E_p08b,'#666'],[E_p10b,'#888'],[E_p12b,'#888'],[E_p14b,'#888'],[E_p18b,'#888'],
    [E_p06,'#555'],[E_p04],[E_p02],[E_z00],[E_m02],[E_m04],[E_m04b],[E_m06],[E_m08],[E_m10,'#666'],[E_m12,'#888']]});
cChart({id:'lf',l:360,t:682,w:180,h:157,box:'dGzL/GzL',labels:F_labels,patches:[[F_patchTL,'#777'],[F_patchBL,'#777'],[F_patchTR,'#888'],[F_patchBR,'#666']],
  lines:[[F_p20,'#888'],[F_p18,'#888'],[F_p16,'#888'],[F_p14,'#888'],[F_p14b,'#888'],[F_p12,'#777'],[F_p10,'#666'],[F_p08,'#555'],[F_p06],[F_p04],[F_p02],[F_z00],[F_m02],[F_m04],[F_m06],[F_m08],[F_m10,'#555'],[F_m12,'#777']]});
</script>
</body></html>
